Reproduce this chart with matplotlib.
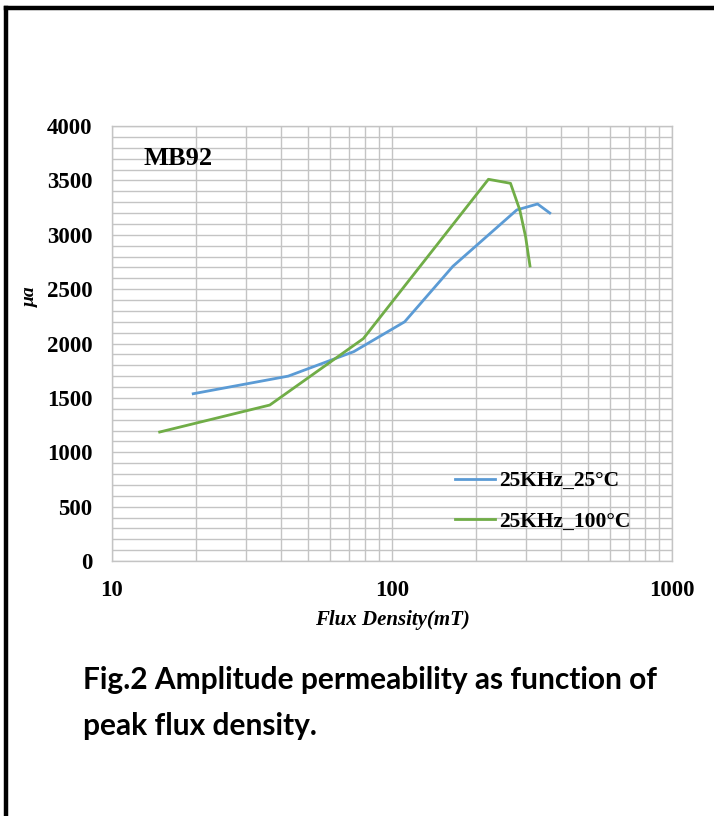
import matplotlib
matplotlib.use("Agg")
import matplotlib.pyplot as plt
from matplotlib.ticker import LogLocator, MultipleLocator, NullFormatter, FixedLocator
from matplotlib.lines import Line2D

# data
b_25c = [19.5, 42.6, 73, 111, 165, 279, 331, 366]
mu_25c = [1538, 1700, 1925, 2200, 2710, 3228, 3283, 3200]

b_100c = [14.8, 36.6, 79, 221, 265, 286, 300, 311]
mu_100c = [1186, 1434, 2045, 3510, 3473, 3228, 2982, 2713]

labels = ["25KHz_25°C", "25KHz_100°C"]
xticks = [10, 100, 1000]
yticks = [0, 500, 1000, 1500, 2000, 2500, 3000, 3500, 4000]

blue = "#5B9BD5"
green = "#70AD47"
gridc = "#c4c4c4"
serif = "Liberation Serif"

fig = plt.figure(figsize=(7.14, 8.16), dpi=100)
ax = fig.add_axes([112 / 714, 1 - 561 / 816, 560 / 714, 435 / 816])

ax.plot(b_25c, mu_25c, color=blue, lw=2.0, label=labels[0], solid_joinstyle="round")
ax.plot(b_100c, mu_100c, color=green, lw=2.0, label=labels[1], solid_joinstyle="round")

ax.set_xscale("log")
ax.set_xlim(10, 1000)
ax.set_ylim(0, 4000)
ax.xaxis.set_major_locator(FixedLocator(xticks))
ax.xaxis.set_minor_locator(LogLocator(base=10, subs=range(2, 10)))
ax.xaxis.set_minor_formatter(NullFormatter())
ax.set_xticks(xticks)
ax.set_xticklabels([str(t) for t in xticks])
ax.set_yticks(yticks)
ax.yaxis.set_minor_locator(MultipleLocator(100))

ax.grid(True, which="both", color=gridc, lw=1.0)
ax.set_axisbelow(True)
for s in ax.spines.values():
    s.set_color(gridc)
    s.set_linewidth(1.0)
ax.tick_params(which="both", length=0)
ax.tick_params(axis="y", pad=14)
ax.tick_params(axis="x", pad=14)
for lab in ax.get_xticklabels() + ax.get_yticklabels():
    lab.set_fontfamily(serif)
    lab.set_fontweight("bold")
    lab.set_fontsize(16.5)

ax.text(0.118, 0.926, "MB92", transform=ax.transAxes, ha="center", va="center",
        family=serif, weight="bold", fontsize=19)

ax.set_xlabel("Flux Density(mT)", family=serif, style="italic", weight="bold",
              fontsize=15, labelpad=6)
fig.text(30 / 714, 1 - 297 / 816, "μa", rotation=90, ha="center", va="center",
         family=serif, style="italic", weight="bold", fontsize=14)

leg = ax.legend(loc="upper left", bbox_to_anchor=(0.578, 0.251), frameon=False,
                handlelength=1.85, handletextpad=0.2, labelspacing=0.95,
                prop={"family": serif, "weight": "bold", "size": 15.5})

# caption under the chart
fig.text(83 / 714, 1 - 680 / 816, "Fig.2 Amplitude permeability as function of",
         ha="left", va="center", family="Lato", weight="bold", fontsize=21.5)
fig.text(83 / 714, 1 - 726 / 816, "peak flux density.",
         ha="left", va="center", family="Lato", weight="bold", fontsize=21.5)

# black frame on the left and top
fig.add_artist(Line2D([6 / 714, 6 / 714], [0, 1 - 8 / 816], color="black", lw=3.2,
                      transform=fig.transFigure, solid_capstyle="projecting"))
fig.add_artist(Line2D([6 / 714, 1], [1 - 8 / 816, 1 - 8 / 816], color="black", lw=3.2,
                      transform=fig.transFigure, solid_capstyle="projecting"))

fig.savefig("out.png", dpi=100)
